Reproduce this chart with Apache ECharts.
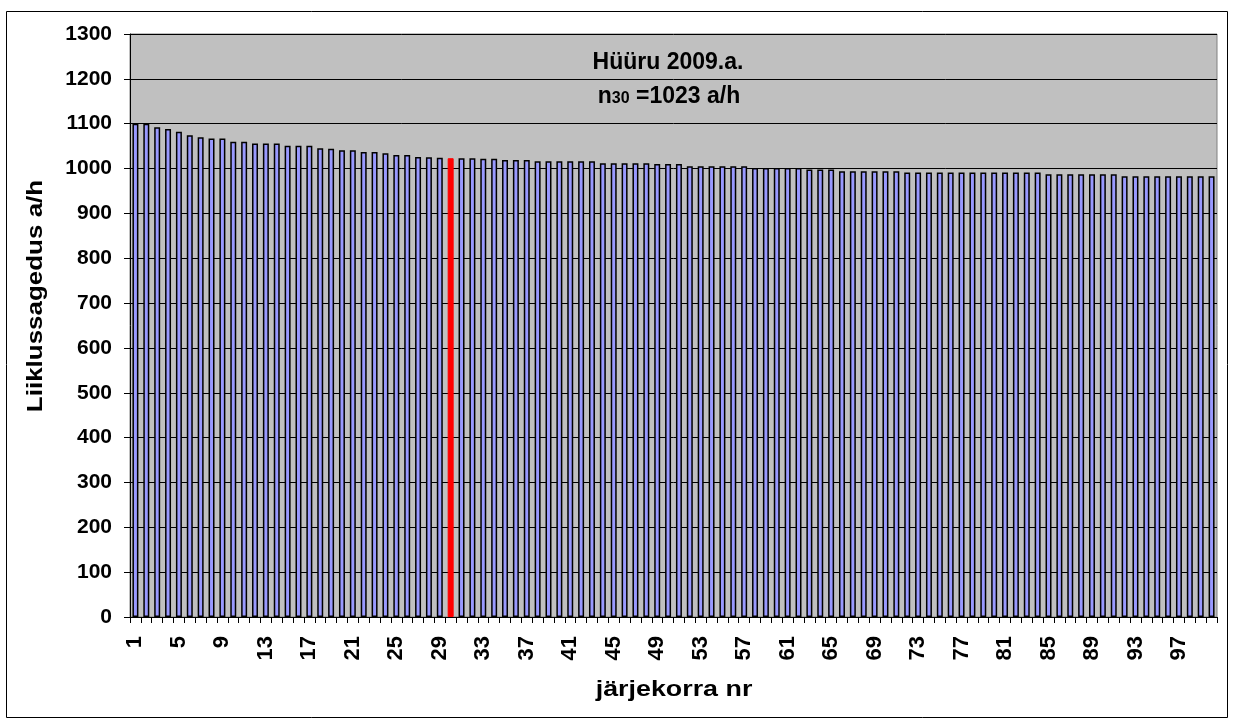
<!DOCTYPE html>
<html>
<head>
<meta charset="utf-8">
<script src="https://cdn.jsdelivr.net/npm/echarts@6/dist/echarts.min.js"></script>
<style>
html,body{margin:0;padding:0;background:#fff;}
#c{width:1234px;height:727px;}
</style>
</head>
<body>
<div id="c"></div>
<script>
var values = [
 1100,1100,1092,1088,1082,1074,1070,1067,1067,1060,
 1060,1056,1056,1056,1051,1051,1051,1045,1044,1041,
 1041,1037,1037,1034,1030,1030,1026,1025,1024,1023,
 1023,1023,1022,1022,1019,1019,1019,1016,1016,1016,
 1016,1016,1016,1012,1012,1012,1012,1012,1010,1010,
 1010,1005,1005,1005,1005,1005,1005,1001,1001,1001,
 1001,1001,998,998,998,994,994,994,994,994,
 994,991,991,991,991,991,991,991,991,991,
 991,991,991,991,987,987,987,987,987,987,
 987,983,983,983,983,983,983,983,983,983
];
var categories = values.map(function(v,i){return String(i+1);});
var highlightIndex = 29;
var titleLine1 = 'Hüüru 2009.a.';
var titleN = '1023';
var xName = 'järjekorra nr';
var yName = 'Liiklussagedus a/h';

var font = 'Liberation Sans, Arial, sans-serif';
var chart = echarts.init(document.getElementById('c'), null, {renderer:'canvas'});
var barData = values.map(function(v,i){
  if(i===highlightIndex) return {value:v,itemStyle:{color:'#FF0000',borderColor:'#FF0000',borderWidth:1}};
  return v;
});
chart.setOption({
  animation:false,
  backgroundColor:'#ffffff',
  grid:{left:130,right:17,top:34,bottom:110,show:true,backgroundColor:'#C0C0C0',borderColor:'#808080',borderWidth:1},
  graphic:[
    {type:'rect',shape:{x:6.5,y:11.5,width:1221,height:706},style:{fill:'none',stroke:'#000',lineWidth:1},z:-1},
    {type:'text',x:668,y:63,z:100,style:{text:titleLine1,font:'bold 23px '+font,fill:'#000',textAlign:'center',textVerticalAlign:'middle'}},
    {type:'text',x:669,y:97,z:100,style:{
      rich:{s:{fontSize:16,fontWeight:'bold',fontFamily:font,fill:'#000',verticalAlign:'bottom',padding:[0,0,2,0]},b:{fontSize:23,fontWeight:'bold',fontFamily:font,fill:'#000'}},
      text:'{b|n}{s|30}{b| ='+titleN+' a/h}',textAlign:'center',textVerticalAlign:'middle'}},
    {type:'text',x:674,y:690,scaleX:1.22,z:100,style:{text:xName,font:'bold 22px '+font,fill:'#000',textAlign:'center',textVerticalAlign:'middle'}},
    {type:'text',x:36,y:296,rotation:Math.PI/2,scaleX:1.18,z:100,style:{text:yName,font:'bold 22px '+font,fill:'#000',textAlign:'center',textVerticalAlign:'middle'}}
  ],
  xAxis:{
    type:'category',data:categories,
    axisLine:{lineStyle:{color:'#000',width:1}},
    axisTick:{show:true,interval:0,length:6,lineStyle:{color:'#000'}},
    axisLabel:{interval:3,rotate:90,fontFamily:font,fontWeight:'bold',fontSize:22,color:'#000',margin:19},
    splitLine:{show:false}
  },
  yAxis:{
    type:'value',min:0,max:1300,interval:100,
    axisLine:{show:true,lineStyle:{color:'#000',width:1}},
    axisTick:{show:true,length:6,lineStyle:{color:'#000'}},
    axisLabel:{fontFamily:font,fontWeight:'bold',fontSize:21,color:'#000',margin:18,formatter:function(v){return String(v);}},
    splitLine:{show:true,lineStyle:{color:'#000',width:1}}
  },
  series:[{
    type:'bar',data:barData,barCategoryGap:'45%',
    itemStyle:{color:'#9999FF',borderColor:'#000',borderWidth:1.5}
  }]
});
</script>
</body>
</html>
